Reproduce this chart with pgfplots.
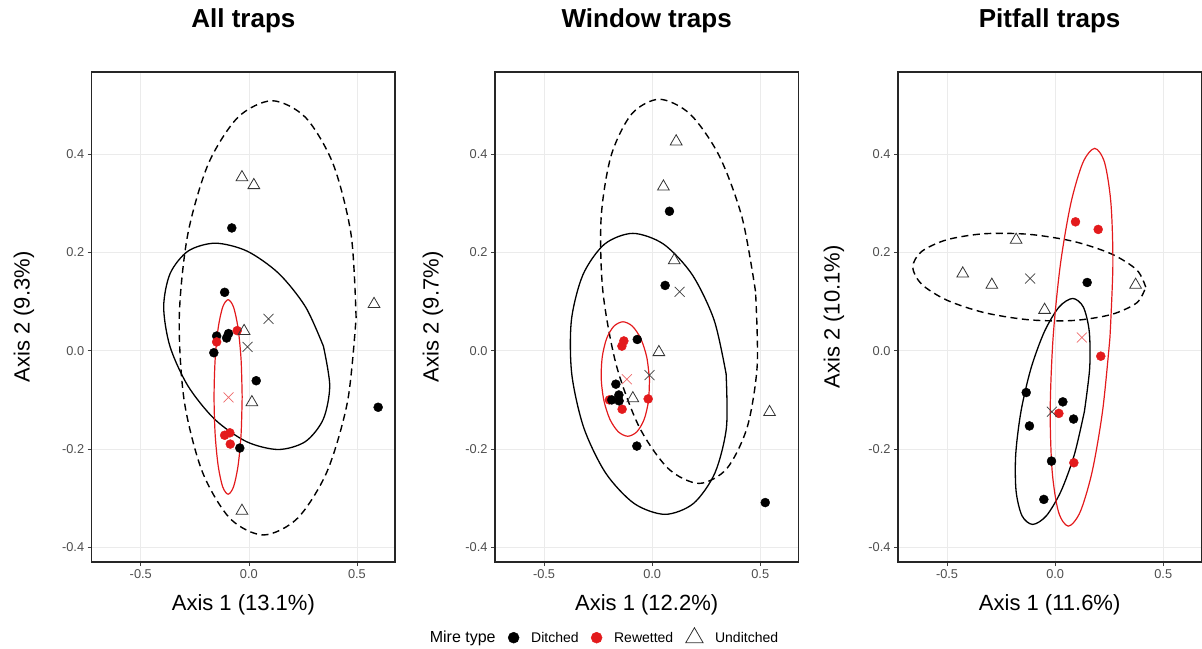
\documentclass[border=0pt]{standalone}
\usepackage{pgfplots}
\pgfplotsset{compat=1.18}
\usepackage{fontspec}
\setmainfont{Liberation Sans}
\definecolor{redc}{HTML}{E31A1C}
\definecolor{gridc}{HTML}{EBEBEB}
\definecolor{tickc}{HTML}{4D4D4D}
\pgfplotsset{
  panel/.style={
    width=303.3pt, height=490pt, scale only axis,
    xmin=-0.727, xmax=0.676, ymin=-0.43, ymax=0.5675,
    xtick={-0.5,0,0.5}, xticklabels={-0.5,0.0,0.5},
    ytick={-0.4,-0.2,0,0.2,0.4}, yticklabels={-0.4,-0.2,0.0,0.2,0.4},
    grid=major, grid style={color=gridc, line width=0.6pt},
    tick pos=left, tick align=outside, major tick length=4pt,
    tick style={color=black!75, line width=0.6pt},
    ticklabel style={font=\fontsize{12.8}{15}\selectfont, text=tickc},
    axis line style={black!85, line width=1.1pt},
    title style={at={(axis description cs:0.5,1.0918)}, anchor=center, font=\fontsize{26}{30}\selectfont\bfseries},
    xlabel style={at={(axis description cs:0.5,-0.0878)}, anchor=center, font=\fontsize{22}{26}\selectfont},
    ylabel style={anchor=center, font=\fontsize{22}{26}\selectfont},
  },
  dit/.style={only marks, mark=*, mark size=4.5pt, color=black, mark options={draw=black, fill=black}},
  rew/.style={only marks, mark=*, mark size=4.5pt, color=redc, mark options={draw=redc, fill=redc}},
  und/.style={only marks, mark=triangle, mark size=6.8pt, color=black!80, mark options={line width=0.8pt, fill=none}},
  cenk/.style={only marks, mark=x, mark size=7pt, color=black!75, mark options={line width=0.7pt}},
  cenr/.style={only marks, mark=x, mark size=7pt, color=redc!65, mark options={line width=0.7pt}},
  ellk/.style={smooth, no marks, black, line width=1.3pt},
  ellu/.style={smooth, no marks, black, line width=1.4pt, dash pattern=on 7pt off 4.5pt},
  ellr/.style={smooth, no marks, redc, line width=1.2pt},
}
\begin{document}
\begin{tikzpicture}
\useasboundingbox (0,0) rectangle (1202pt,648pt);
% ---------------- Panel 1 ----------------
\begin{axis}[panel, at={(91.7pt,86pt)}, anchor=south west,
  title={All traps}, xlabel={Axis 1 (13.1\%)}, ylabel={Axis 2 (9.3\%)},
  ylabel style={at={(axis description cs:-0.2232,0.5)}}]
\addplot[ellu] coordinates {(0.496,0.067)(0.473,0.236)(0.390,0.380)(0.262,0.475)(0.107,0.509)(-0.051,0.475)(-0.188,0.380)(-0.283,0.236)(-0.322,0.067)(-0.299,-0.102)(-0.216,-0.2455)(-0.088,-0.341)(0.067,-0.375)(0.225,-0.341)(0.362,-0.2455)(0.457,-0.102)(0.496,0.067)};
\addplot[ellk] coordinates {(0.345,0.009)(0.262,0.0894)(0.138,0.1575)(-0.009,0.203)(-0.156,0.219)(-0.281,0.203)(-0.364,0.1575)(-0.394,0.0894)(-0.365,0.009)(-0.282,-0.0714)(-0.158,-0.1395)(-0.011,-0.185)(0.136,-0.201)(0.261,-0.185)(0.344,-0.1395)(0.374,-0.0714)(0.345,0.009)};
\addplot[ellr] coordinates {(-0.031,-0.094)(-0.036,-0.018)(-0.050,0.046)(-0.071,0.089)(-0.096,0.104)(-0.121,0.089)(-0.142,0.046)(-0.156,-0.018)(-0.161,-0.094)(-0.156,-0.170)(-0.142,-0.234)(-0.121,-0.277)(-0.096,-0.292)(-0.071,-0.277)(-0.050,-0.234)(-0.036,-0.170)(-0.031,-0.094)};
\addplot[dit] coordinates {(-0.079,0.25)(-0.112,0.119)(-0.149,0.030)(-0.103,0.026)(-0.094,0.035)(-0.162,-0.004)(0.034,-0.061)(-0.042,-0.198)(0.598,-0.115)};
\addplot[rew] coordinates {(-0.149,0.018)(-0.054,0.041)(-0.112,-0.172)(-0.088,-0.167)(-0.086,-0.19)};
\addplot[und] coordinates {(-0.032,0.353)(0.023,0.337)(-0.022,0.040)(0.014,-0.105)(0.579,0.095)(-0.032,-0.326)};
\addplot[cenk] coordinates {(0.091,0.065)(-0.006,0.008)};
\addplot[cenr] coordinates {(-0.094,-0.095)};
\end{axis}
% ---------------- Panel 2 ----------------
\begin{axis}[panel, at={(495pt,86pt)}, anchor=south west,
  title={Window traps}, xlabel={Axis 1 (12.2\%)}, ylabel={Axis 2 (9.7\%)},
  ylabel style={at={(axis description cs:-0.2044,0.5)}},
  legend columns=-1,
  legend style={at={(axis description cs:-0.255,-0.153)}, anchor=west, draw=none, fill=none,
    font=\fontsize{14}{17}\selectfont, inner sep=0pt,
    /tikz/every odd column/.append style={column sep=10pt},
    /tikz/every even column/.append style={column sep=10.5pt}}]
\addlegendimage{empty legend}\addlegendentry{\fontsize{16}{19}\selectfont Mire type}
\addlegendimage{only marks, mark=*, mark size=5.5pt, black}\addlegendentry{Ditched}
\addlegendimage{only marks, mark=*, mark size=5.5pt, redc, mark options={fill=redc}}\addlegendentry{Rewetted}
\addlegendimage{only marks, mark=triangle, mark size=10pt, black!80, mark options={line width=0.8pt, fill=none}}\addlegendentry{Unditched}
\addplot[ellu, forget plot] coordinates {(0.478,0.121)(0.416,0.271)(0.310,0.397)(0.175,0.482)(0.033,0.512)(-0.095,0.482)(-0.190,0.397)(-0.236,0.271)(-0.228,0.121)(-0.166,-0.029)(-0.060,-0.155)(0.075,-0.240)(0.217,-0.270)(0.345,-0.240)(0.440,-0.155)(0.486,-0.029)(0.478,0.121)};
\addplot[ellk, forget plot] coordinates {(0.342,-0.047)(0.2865,0.0625)(0.185,0.155)(0.053,0.217)(-0.0895,0.239)(-0.2205,0.217)(-0.320,0.155)(-0.3735,0.0625)(-0.372,-0.047)(-0.3165,-0.1565)(-0.215,-0.249)(-0.083,-0.311)(0.0595,-0.333)(0.1905,-0.311)(0.290,-0.249)(0.3435,-0.1565)(0.342,-0.047)};
\addplot[ellr, forget plot] coordinates {(-0.0125,-0.0575)(-0.025,-0.013)(-0.053,0.025)(-0.0915,0.050)(-0.135,0.059)(-0.177,0.050)(-0.2106,0.025)(-0.231,-0.013)(-0.2355,-0.0575)(-0.223,-0.102)(-0.195,-0.140)(-0.1565,-0.165)(-0.113,-0.174)(-0.071,-0.165)(-0.0374,-0.140)(-0.017,-0.102)(-0.0125,-0.0575)};
\addplot[rew, forget plot] coordinates {(-0.131,0.020)(-0.140,0.0095)(-0.0185,-0.098)(-0.139,-0.119)(-0.198,-0.100)};
\addplot[dit, forget plot] coordinates {(0.080,0.284)(0.060,0.133)(-0.069,0.023)(-0.168,-0.068)(-0.154,-0.090)(-0.187,-0.100)(-0.153,-0.102)(-0.071,-0.194)(0.523,-0.309)};
\addplot[und, forget plot] coordinates {(0.111,0.426)(0.052,0.334)(0.102,0.184)(0.031,-0.003)(-0.0895,-0.097)(0.543,-0.125)};
\addplot[cenk, forget plot] coordinates {(0.127,0.120)(-0.0123,-0.0495)};
\addplot[cenr, forget plot] coordinates {(-0.117,-0.058)};
\end{axis}
% ---------------- Panel 3 ----------------
\begin{axis}[panel, at={(898pt,86pt)}, anchor=south west,
  title={Pitfall traps}, xlabel={Axis 1 (11.6\%)}, ylabel={Axis 2 (10.1\%)},
  ylabel style={at={(axis description cs:-0.211,0.5)}}]
\addplot[ellu] coordinates {(0.419,0.1295)(0.378,0.1644)(0.261,0.197)(0.0864,0.2225)(-0.12,0.237)(-0.3264,0.2383)(-0.501,0.226)(-0.618,0.202)(-0.659,0.1705)(-0.618,0.1356)(-0.501,0.103)(-0.3264,0.0775)(-0.12,0.063)(0.0864,0.0617)(0.261,0.074)(0.378,0.0978)(0.419,0.1295)};
\addplot[ellk] coordinates {(0.1352,-0.1235)(0.1596,-0.0354)(0.1577,0.0391)(0.1303,0.089)(0.0811,0.1065)(0.0179,0.089)(-0.0497,0.0391)(-0.1116,-0.0354)(-0.1582,-0.1235)(-0.1826,-0.2116)(-0.1807,-0.2861)(-0.1533,-0.336)(-0.1041,-0.3535)(-0.0409,-0.336)(0.0267,-0.2861)(0.0886,-0.2116)(0.1352,-0.1235)};
\addplot[ellr] coordinates {(0.2535,0.0275)(0.2669,0.1748)(0.2581,0.2993)(0.2288,0.3828)(0.183,0.412)(0.128,0.3828)(0.0721,0.2993)(0.0239,0.1748)(-0.0095,0.0275)(-0.0229,-0.1198)(-0.0141,-0.2443)(0.0152,-0.3278)(0.061,-0.357)(0.116,-0.3278)(0.1719,-0.2443)(0.2201,-0.1198)(0.2535,0.0275)};
\addplot[dit] coordinates {(0.148,0.139)(-0.134,-0.085)(0.0355,-0.104)(-0.119,-0.153)(0.085,-0.139)(-0.017,-0.2246)(-0.0525,-0.3026)};
\addplot[rew] coordinates {(0.094,0.2625)(0.199,0.247)(0.211,-0.011)(0.017,-0.1275)(0.0864,-0.228)};
\addplot[und] coordinates {(-0.1806,0.2256)(-0.4275,0.157)(-0.293,0.134)(-0.049,0.083)(0.372,0.134)};
\addplot[cenk] coordinates {(-0.1157,0.147)(-0.0154,-0.124)};
\addplot[cenr] coordinates {(0.123,0.027)};
\end{axis}
\end{tikzpicture}
\end{document}
